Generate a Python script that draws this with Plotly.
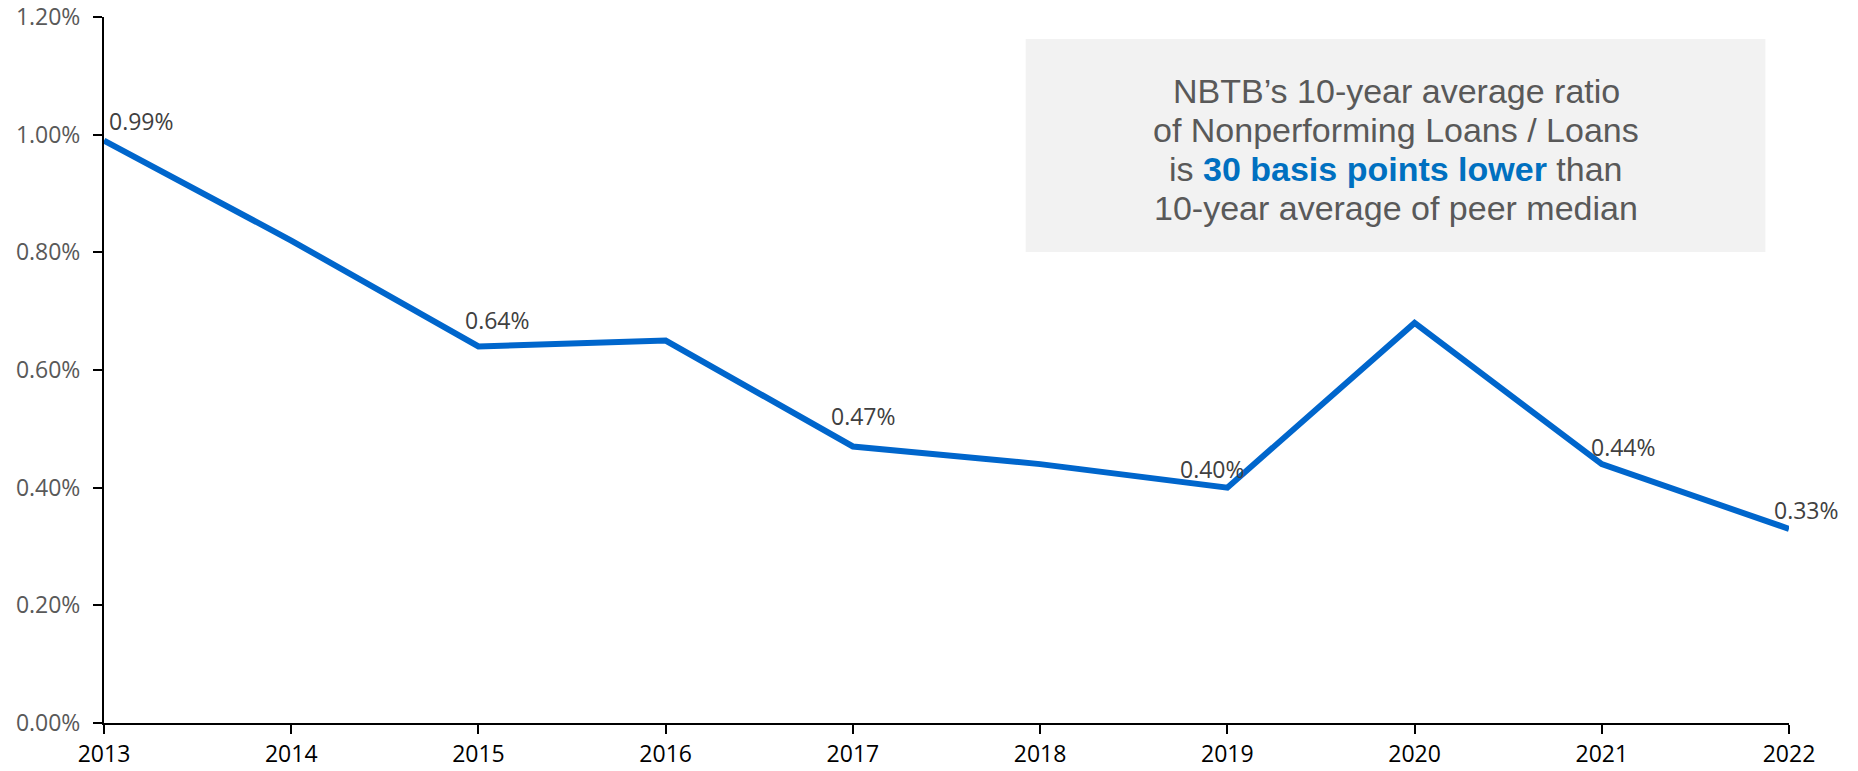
import plotly.graph_objects as go

# data
years = [2013, 2014, 2015, 2016, 2017, 2018, 2019, 2020, 2021, 2022]
npl_ratio = [0.0099, 0.0082, 0.0064, 0.0065, 0.0047, 0.0044, 0.0040, 0.0068, 0.0044, 0.0033]
labeled_years = [2013, 2015, 2017, 2019, 2021, 2022]
y_ticks = [0, 0.002, 0.004, 0.006, 0.008, 0.010, 0.012]
callout_lines = [
    "NBTB\u2019s 10-year average ratio",
    "of Nonperforming Loans / Loans",
    "is <b><span style='color:#0070C0'>30 basis points lower</span></b> than",
    "10-year average of peer median",
]

# label placement (pixels), roughly as in the original slide
label_dx = [37, 19, 11, -15, 22, 17]
label_dy = [20, 26, 30, 19, 17, 19]

BLUE = '#0066CC'
TICK_FONT = 'Open Sans, Noto Sans, sans-serif'

fig = go.Figure()
fig.add_trace(go.Scatter(
    x=years, y=npl_ratio, mode='lines',
    line=dict(color=BLUE, width=6),
    hoverinfo='x+y', showlegend=False,
))

lookup = dict(zip(years, npl_ratio))
for yr, dx, dy in zip(labeled_years, label_dx, label_dy):
    v = lookup[yr]
    fig.add_annotation(
        x=yr, y=v, text=f"{v * 100:.2f}%", showarrow=False,
        xanchor='center', yanchor='middle', xshift=dx, yshift=dy,
        font=dict(family=TICK_FONT, size=23, color='#404040'),
    )

# call-out box, one annotation per line to get the tighter line spacing
fig.add_shape(
    type='rect', xref='paper', yref='paper',
    x0=0.547, x1=0.986, y0=0.667, y1=0.969,
    fillcolor='#F2F2F2', line=dict(width=0), layer='below',
)
line_gap = 39
n = len(callout_lines)
for i, txt in enumerate(callout_lines):
    fig.add_annotation(
        xref='paper', yref='paper', x=0.767, y=0.812,
        yshift=((n - 1) / 2 - i) * line_gap,
        xanchor='center', yanchor='middle', showarrow=False,
        text=txt,
        font=dict(family='Liberation Sans, Arial, sans-serif', size=34, color='#595959'),
    )

fig.update_layout(
    width=1858, height=771,
    margin=dict(l=104, r=69, t=17, b=48),
    plot_bgcolor='white', paper_bgcolor='white',
    xaxis=dict(
        range=[2013, 2022], tickmode='array', tickvals=years,
        showgrid=False, zeroline=False, automargin=False,
        showline=True, linecolor='black', linewidth=2,
        ticks='outside', ticklen=9, tickwidth=2, tickcolor='black',
        tickfont=dict(family=TICK_FONT, size=23, color='black'),
    ),
    yaxis=dict(
        range=[0, 0.012], tickmode='array', tickvals=y_ticks,
        tickformat='.2%', showgrid=False, zeroline=False, automargin=False,
        showline=True, linecolor='black', linewidth=2,
        ticks='outside', ticklen=9, tickwidth=2, tickcolor='black',
        ticklabelstandoff=8,
        tickfont=dict(family=TICK_FONT, size=23, color='#595959'),
    ),
)

fig.write_html("out.html", config={'displayModeBar': False},
               post_script="document.body.style.margin='0';")
